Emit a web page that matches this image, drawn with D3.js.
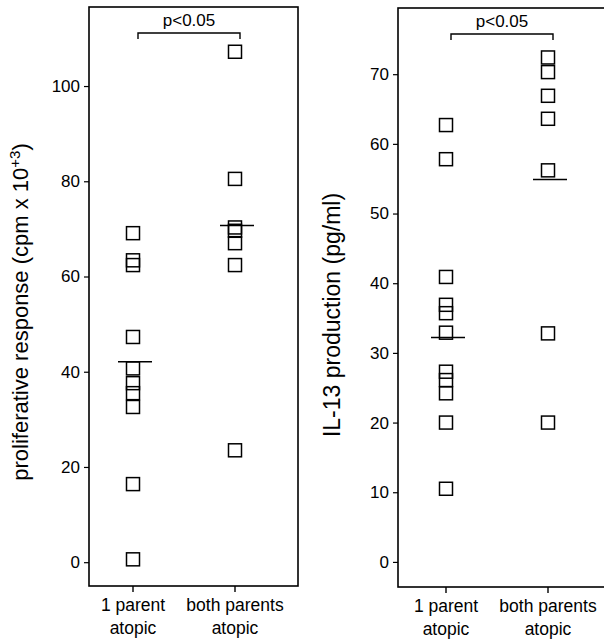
<!DOCTYPE html>
<html>
<head>
<meta charset="utf-8">
<script src="https://cdn.jsdelivr.net/npm/d3@7"></script>
<style>
  body { margin: 0; background: #fff; }
  svg { display: block; font-family: "Liberation Sans", Arial, Helvetica, sans-serif; }
</style>
</head>
<body>
<svg id="chart" width="604" height="641"></svg>
<script>
// groups on the x axis (two lines each)
var groups = ["1 parent atopic", "both parents atopic"];
var groupLines = [["1 parent", "atopic"], ["both parents", "atopic"]];

// left panel: proliferative response
var prolifOne  = [69.1, 63.4, 62.4, 47.3, 40.7, 37.6, 35.5, 32.6, 16.4, 0.6];
var prolifBoth = [107.2, 80.5, 70.3, 69.6, 67.0, 62.4, 23.5];
var prolifMeans = [42.1, 70.7];
var prolifTicks = [0, 20, 40, 60, 80, 100];

// right panel: IL-13 production
var il13One  = [62.7, 57.8, 40.9, 36.9, 35.7, 32.9, 27.3, 26.1, 24.2, 20.0, 10.5];
var il13Both = [72.4, 70.3, 66.9, 63.6, 56.2, 32.8, 20.0];
var il13Means = [32.2, 54.9];
var il13Ticks = [0, 10, 20, 30, 40, 50, 60, 70];

var pText = "p<0.05";

var svg = d3.select("#chart");

function drawPanel(cfg) {
  var g = svg.append("g");

  var y = d3.scaleLinear().domain(cfg.yDomain).range([cfg.bottom, cfg.top]);
  var x = d3.scalePoint().domain(groups).range(cfg.xRange);

  // frame
  g.append("rect")
    .attr("x", cfg.left).attr("y", cfg.top)
    .attr("width", cfg.right - cfg.left).attr("height", cfg.bottom - cfg.top)
    .attr("fill", "none").attr("stroke", "#000").attr("stroke-width", 1.6);

  // y axis
  var ya = g.append("g")
    .attr("transform", "translate(" + cfg.left + ",0)")
    .call(d3.axisLeft(y).tickValues(cfg.ticks).tickSize(5).tickPadding(4));
  ya.select(".domain").remove();
  ya.selectAll("line").attr("stroke-width", 1.2);
  ya.selectAll("text").attr("font-size", 17).attr("font-family", null).attr("fill", "#000");

  // x ticks
  g.selectAll(".xt").data(groups).enter().append("line")
    .attr("x1", function(d) { return x(d); }).attr("x2", function(d) { return x(d); })
    .attr("y1", cfg.bottom).attr("y2", cfg.bottom + 6)
    .attr("stroke", "#000").attr("stroke-width", 1.4);

  // x labels
  var lab = g.selectAll(".xl").data(groups).enter().append("text")
    .attr("text-anchor", "middle").attr("font-size", 17.5)
    .attr("x", function(d) { return x(d); });
  lab.each(function(d, i) {
    var t = d3.select(this);
    groupLines[i].forEach(function(s, j) {
      t.append("tspan").attr("x", x(d)).attr("y", cfg.bottom + 25 + j * 23).text(s);
    });
  });

  // squares
  var s = 13;
  cfg.values.forEach(function(vals, i) {
    g.selectAll(null).data(vals).enter().append("rect")
      .attr("x", x(groups[i]) - s / 2)
      .attr("y", function(d) { return y(d) - s / 2; })
      .attr("width", s).attr("height", s)
      .attr("fill", "none").attr("stroke", "#000").attr("stroke-width", 1.5);
  });

  // mean lines
  g.selectAll(".mean").data(cfg.means).enter().append("line")
    .attr("x1", function(d, i) { return x(groups[i]) - 15; })
    .attr("x2", function(d, i) { return x(groups[i]) + 19; })
    .attr("y1", function(d) { return y(d); }).attr("y2", function(d) { return y(d); })
    .attr("stroke", "#000").attr("stroke-width", 1.5);

  // significance bracket
  var bx0 = x(groups[0]) + 5, bx1 = x(groups[1]) + 5, by = cfg.top + 26;
  g.append("path")
    .attr("d", "M" + bx0 + "," + (by + 6) + "V" + by + "H" + bx1 + "V" + (by + 6))
    .attr("fill", "none").attr("stroke", "#000").attr("stroke-width", 1.4);
  g.append("text")
    .attr("x", (bx0 + bx1) / 2).attr("y", by - 7)
    .attr("text-anchor", "middle").attr("font-size", 17)
    .text(pText);

  // y label
  var yl = g.append("text")
    .attr("transform", "translate(" + cfg.labelX + "," + cfg.labelY + ") rotate(-90)")
    .attr("text-anchor", "middle").attr("font-size", cfg.labelSize);
  cfg.label(yl);
}

drawPanel({
  left: 89, right: 298, top: 7, bottom: 586,
  yDomain: [-5, 116.6], xRange: [133, 235],
  ticks: prolifTicks, values: [prolifOne, prolifBoth], means: prolifMeans,
  labelX: 28, labelY: 312, labelSize: 22,
  label: function(t) {
    t.append("tspan").text("proliferative response (cpm x 10");
    t.append("tspan").attr("dy", -8).attr("font-size", 15).text("+3");
    t.append("tspan").attr("dy", 8).text(")");
  }
});

drawPanel({
  left: 398, right: 720, top: 8, bottom: 587,
  yDomain: [-3.6, 79.5], xRange: [446, 548],
  ticks: il13Ticks, values: [il13One, il13Both], means: il13Means,
  labelX: 340, labelY: 315, labelSize: 23,
  label: function(t) {
    t.text("IL-13 production (pg/ml)");
  }
});
</script>
</body>
</html>
